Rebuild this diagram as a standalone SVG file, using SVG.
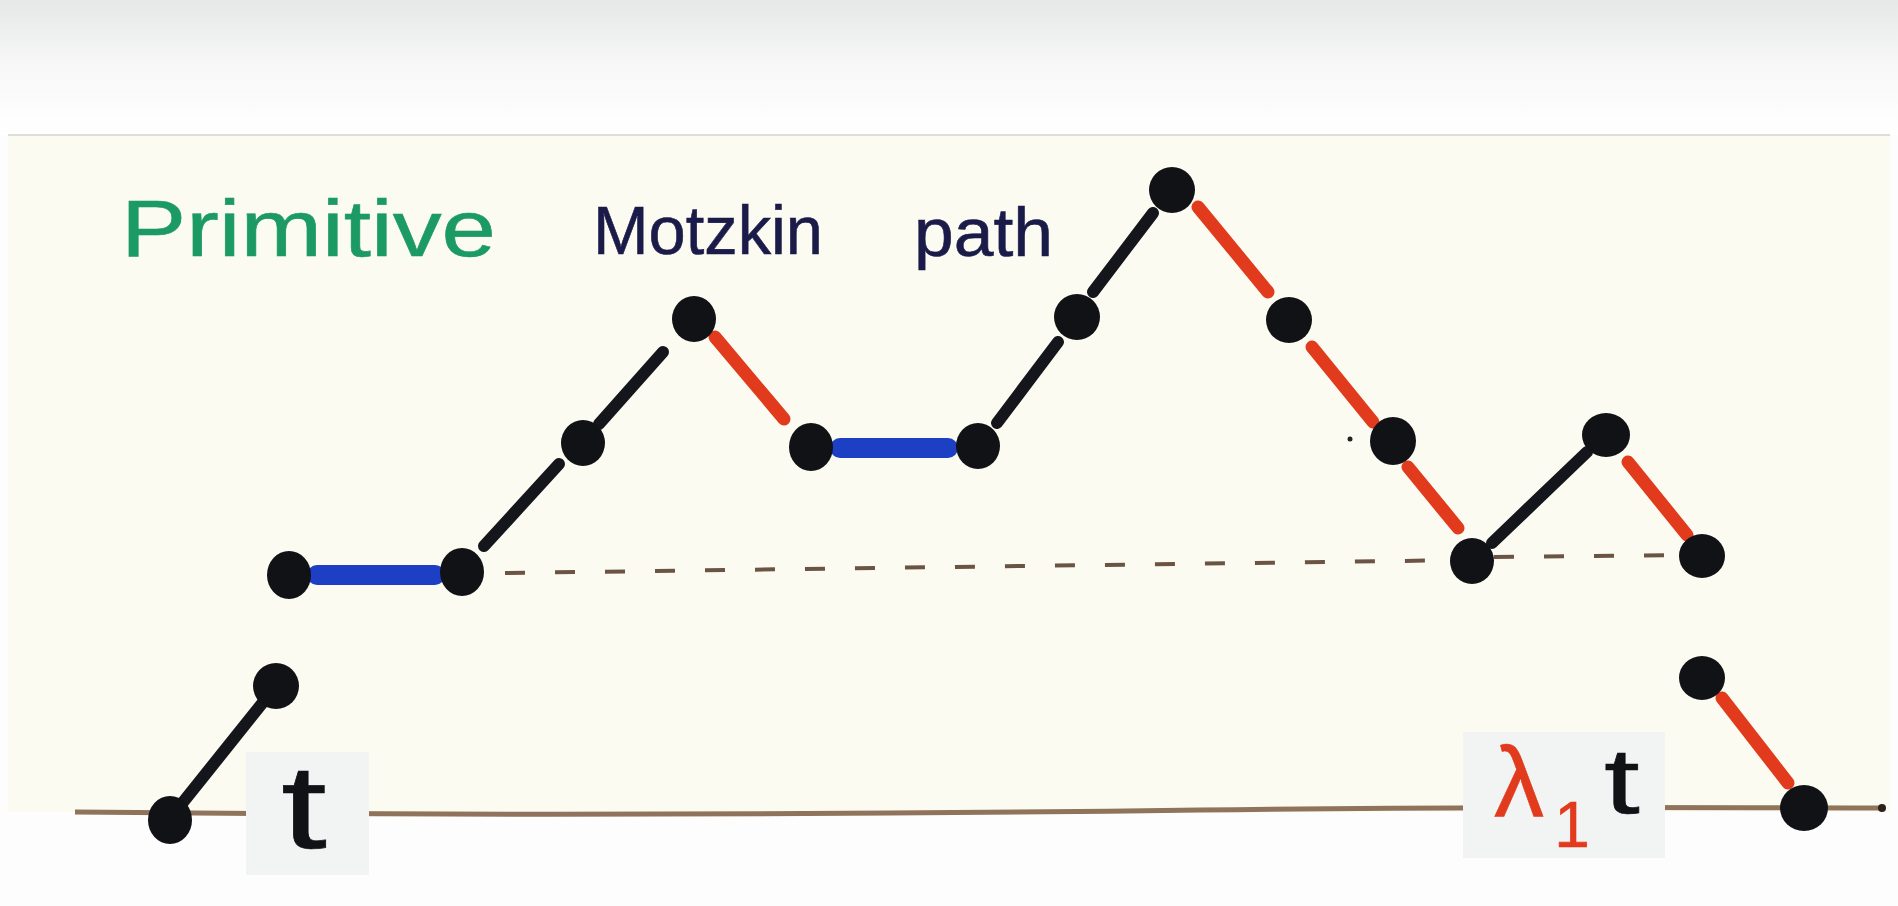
<svg xmlns="http://www.w3.org/2000/svg" width="1898" height="906" viewBox="0 0 1898 906">
<defs>
<linearGradient id="topfade" x1="0" y1="0" x2="0" y2="1">
<stop offset="0" stop-color="#e4e8e6"/>
<stop offset="0.45" stop-color="#f6f7f6"/>
<stop offset="1" stop-color="#ffffff"/>
</linearGradient>
<style>
.dot{fill:#111216}
.up{stroke:#15161c;stroke-width:12;stroke-linecap:round;fill:none}
.down{stroke:#e23a1c;stroke-width:13;stroke-linecap:round;fill:none}
.level{stroke:#1d3fc4;stroke-width:20;stroke-linecap:round;fill:none}
.dash{stroke:#6b5444;stroke-width:4;stroke-dasharray:20 30;fill:none}
.base{stroke:#8f735a;stroke-width:5;fill:none}
.label{font-family:"Liberation Sans",Arial,sans-serif;stroke-width:0.6}
.box{fill:#f2f3f3}
</style>
</defs>
<rect x="0" y="0" width="1898" height="906" fill="#fdfdfd"/>
<rect x="0" y="0" width="1898" height="135" fill="url(#topfade)"/>
<rect x="8" y="135" width="1882" height="677" fill="#fbfbf2"/>
<line x1="8" y1="135" x2="1890" y2="135" stroke="#dcdedb" stroke-width="2"/>

<g id="baseline">
<path class="base" d="M75 812 C 500 816 900 814 1200 810 S 1700 808 1882 808"/>
<circle cx="1882" cy="808" r="4" fill="#2a211b"/>
</g>
<g id="level-line">
<path class="dash" d="M505 573 L1470 560"/>
<path class="dash" d="M1494 557 L1690 555"/>
</g>

<g id="connectors">
<line class="up" x1="172" y1="816" x2="272" y2="691"/>
<line class="level" x1="317" y1="575" x2="435" y2="575"/>
<line class="up" x1="484" y1="546" x2="559" y2="464"/>
<line class="up" x1="599" y1="424" x2="663" y2="352"/>
<line class="down" x1="715" y1="337" x2="784" y2="419"/>
<line class="level" x1="840" y1="448" x2="948" y2="448"/>
<line class="up" x1="997" y1="423" x2="1058" y2="342"/>
<line class="up" x1="1093" y1="292" x2="1153" y2="213"/>
<line class="down" x1="1198" y1="207" x2="1268" y2="292"/>
<line class="down" x1="1312" y1="347" x2="1373" y2="422"/>
<line class="down" x1="1408" y1="467" x2="1458" y2="528"/>
<line class="up" x1="1492" y1="543" x2="1587" y2="452"/>
<line class="down" x1="1628" y1="462" x2="1687" y2="535"/>
<line class="down" x1="1722" y1="698" x2="1788" y2="783"/>
</g>

<g id="node-A"><ellipse class="dot" cx="170" cy="820" rx="22" ry="24"/></g>
<g id="node-B"><ellipse class="dot" cx="276" cy="686" rx="23" ry="23"/></g>
<g id="node-C"><ellipse class="dot" cx="289" cy="575" rx="22" ry="24"/></g>
<g id="node-D"><ellipse class="dot" cx="462" cy="572" rx="22" ry="24"/></g>
<g id="node-E"><ellipse class="dot" cx="583" cy="443" rx="22" ry="23"/></g>
<g id="node-F"><ellipse class="dot" cx="694" cy="319" rx="22" ry="23"/></g>
<g id="node-G"><ellipse class="dot" cx="811" cy="447" rx="22" ry="24"/></g>
<g id="node-H"><ellipse class="dot" cx="978" cy="446" rx="22" ry="23"/></g>
<g id="node-I"><ellipse class="dot" cx="1077" cy="317" rx="23" ry="23"/></g>
<g id="node-J"><ellipse class="dot" cx="1172" cy="190" rx="23" ry="23"/></g>
<g id="node-K"><ellipse class="dot" cx="1289" cy="320" rx="23" ry="23"/></g>
<g id="node-L"><ellipse class="dot" cx="1393" cy="441" rx="23" ry="24"/></g>
<g id="node-M"><ellipse class="dot" cx="1472" cy="561" rx="22" ry="23"/></g>
<g id="node-N"><ellipse class="dot" cx="1606" cy="435" rx="24" ry="22"/></g>
<g id="node-O"><ellipse class="dot" cx="1702" cy="556" rx="23" ry="22"/></g>
<g id="node-P"><ellipse class="dot" cx="1702" cy="678" rx="23" ry="22"/></g>
<g id="node-Q"><ellipse class="dot" cx="1804" cy="808" rx="24" ry="23"/></g>
<circle cx="1350" cy="439" r="2.5" fill="#222"/>

<g id="title">
<text class="label" x="121" y="256" font-size="80" fill="#1c9a64" stroke="#1c9a64" textLength="375" lengthAdjust="spacingAndGlyphs">Primitive</text>
<text class="label" x="593" y="254" font-size="68" fill="#1b1b4a" stroke="#1b1b4a" textLength="230" lengthAdjust="spacingAndGlyphs">Motzkin</text>
<text class="label" x="914" y="256" font-size="68" fill="#1b1b4a" stroke="#1b1b4a" textLength="139" lengthAdjust="spacingAndGlyphs">path</text>
</g>

<g id="label-t">
<rect class="box" x="246" y="752" width="123" height="123"/>
<text class="label" transform="translate(304,848) scale(1.4,1)" text-anchor="middle" font-size="118" fill="#111216" stroke="#111216">t</text>
</g>
<g id="label-lambda-t">
<rect class="box" x="1463" y="732" width="202" height="126"/>
<text class="label" x="1519" y="817" text-anchor="middle" font-size="100" fill="#e23a1c" stroke="#e23a1c">λ</text>
<text class="label" x="1572" y="847" text-anchor="middle" font-size="64" fill="#e23a1c" stroke="#e23a1c">1</text>
<text class="label" transform="translate(1622,813) scale(1.4,1)" text-anchor="middle" font-size="92" fill="#111216" stroke="#111216">t</text>
</g>
</svg>
